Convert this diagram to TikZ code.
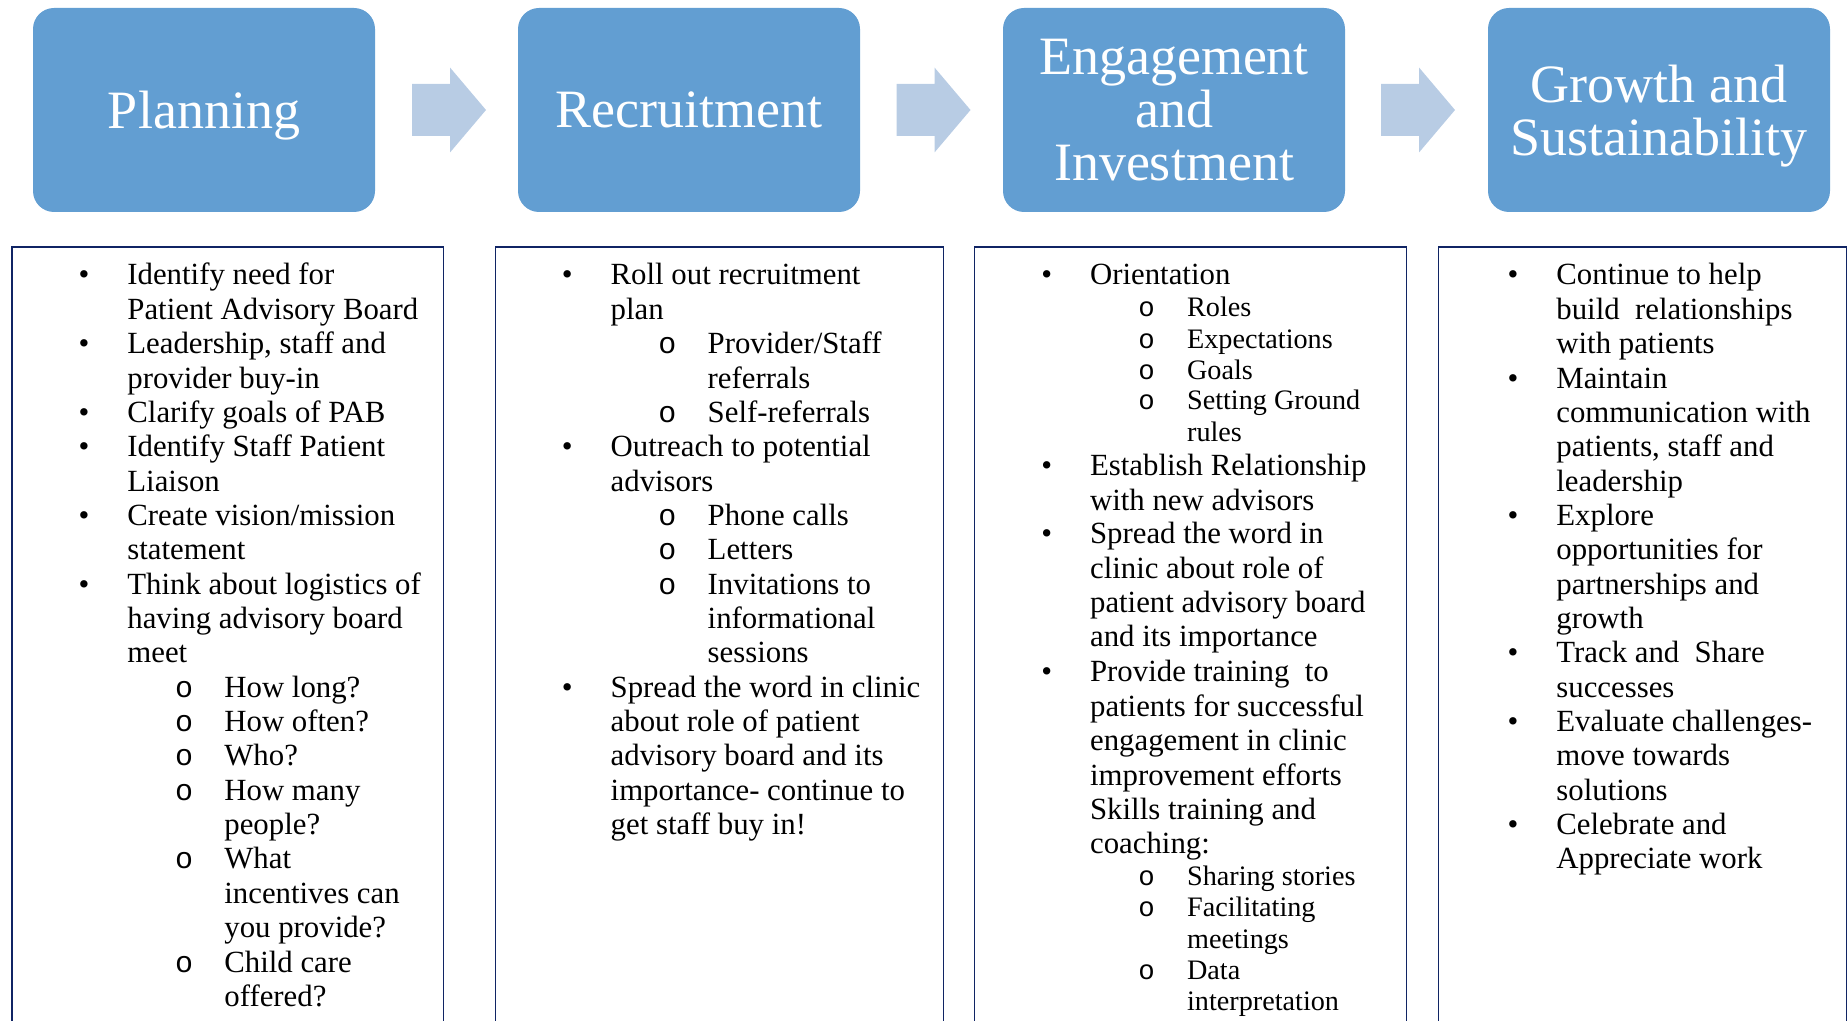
\documentclass[tikz,border=0pt]{standalone}
\usepackage{fontspec}
\setmainfont{Liberation Serif}
\newfontfamily\monof{Liberation Mono}
\usetikzlibrary{calc}
\definecolor{stagefill}{RGB}{98,158,210}
\definecolor{arrowfill}{RGB}{184,204,228}
\definecolor{framec}{RGB}{16,36,100}
\tikzset{
 stagebox/.style={draw=none, fill=stagefill, rounded corners=10.5pt, minimum width=171pt, minimum height=102pt, text=white, align=center, font=\fontsize{27}{26.5}\selectfont, inner sep=0pt},
 flowarrow/.style={fill=arrowfill, draw=none},
 frameline/.style={draw=framec, line width=0.7pt},
 bodyt/.style={inner sep=0pt, font=\fontsize{15.4}{17.15}\selectfont},
 smallt/.style={inner sep=0pt, font=\fontsize{14.1}{15.6}\selectfont},
 bult/.style={inner sep=0pt, font=\fontsize{15.4}{17.15}\selectfont},
 subbul/.style={inner sep=0pt, font=\monof\fontsize{15}{17.15}\selectfont},
 subbuls/.style={inner sep=0pt, font=\monof\fontsize{13.7}{15.6}\selectfont},
}
\newcounter{lnc}
\newcommand{\tline}[4]{\stepcounter{lnc}\node[#1,anchor=base west] (ln\arabic{lnc}) at ({#2},{#3}) {#4};}
\newcommand{\tbul}[2]{\stepcounter{lnc}\node[bult,anchor=base] (ln\arabic{lnc}) at ({#1},{#2}) {\textbullet};}
\newcommand{\tsub}[3]{\stepcounter{lnc}\node[#1,anchor=base] (ln\arabic{lnc}) at ({#2},{#3}) {o};}
\newcommand{\itB}[3]{\tbul{#1+72}{#2}\tline{bodyt}{#1+115}{#2}{#3}}
\newcommand{\itC}[3]{\tline{bodyt}{#1+115}{#2}{#3}}
\newcommand{\itS}[3]{\tsub{subbul}{#1+172}{#2}\tline{bodyt}{#1+212}{#2}{#3}}
\newcommand{\itT}[3]{\tline{bodyt}{#1+212}{#2}{#3}}
\newcommand{\smS}[3]{\tsub{subbuls}{#1+172}{#2}\tline{smallt}{#1+212}{#2}{#3}}
\newcommand{\smT}[3]{\tline{smallt}{#1+212}{#2}{#3}}
\newcommand{\kk}[1]{285+#1*34.35}
\newcommand{\nodp}[1]{\raisebox{0pt}[\height][0pt]{#1}}
\newcommand{\blockarrow}[1]{%
 \fill[flowarrow] ($(#1)+(-37,-26)$) -- ($(#1)+(1,-26)$) -- ($(#1)+(1,-42.5)$) -- ($(#1)+(37,0)$)
   -- ($(#1)+(1,42.5)$) -- ($(#1)+(1,26)$) -- ($(#1)+(-37,26)$) -- cycle;}
\begin{document}
\begin{tikzpicture}[x=0.5pt,y=-0.5pt]
\useasboundingbox (0,0) rectangle (1848,1021);
% stage boxes
\node[stagebox] (p1) at (204,110) {\nodp{Planning}};
\node[stagebox] (p2) at (689,110) {Recruitment};
\node[stagebox] (p3) at (1174,110) {Engagement\\and\\Investment};
\node[stagebox] (p4) at (1659,110) {Growth and\\\nodp{Sustainability}};
% block arrows
\coordinate (a1) at ($(p1.east)!0.5!(p2.west)+(2.5,0)$);
\coordinate (a2) at ($(p2.east)!0.5!(p3.west)+(2,0)$);
\coordinate (a3) at ($(p3.east)!0.5!(p4.west)+(1.5,0)$);
\blockarrow{a1}
\blockarrow{a2}
\blockarrow{a3}
% frames
\draw[frameline] (12,1023) -- (12,247) -- (443.5,247) -- (443.5,1023);
\draw[frameline] (495.3,1023) -- (495.3,247) -- (943.7,247) -- (943.7,1023);
\draw[frameline] (974.7,1023) -- (974.7,247) -- (1406.7,247) -- (1406.7,1023);
\draw[frameline] (1438.7,1023) -- (1438.7,247) -- (1846.3,247) -- (1846.3,1023);
% column 1
\itB{12}{\kk{0}}{Identify need for}
\itC{12}{\kk{1}}{Patient Advisory Board}
\itB{12}{\kk{2}}{Leadership, staff and}
\itC{12}{\kk{3}}{provider buy-in}
\itB{12}{\kk{4}}{Clarify goals of PAB}
\itB{12}{\kk{5}}{Identify Staff Patient}
\itC{12}{\kk{6}}{Liaison}
\itB{12}{\kk{7}}{Create vision/mission}
\itC{12}{\kk{8}}{statement}
\itB{12}{\kk{9}}{Think about logistics of}
\itC{12}{\kk{10}}{having advisory board}
\itC{12}{\kk{11}}{meet}
\itS{12}{\kk{12}}{How long?}
\itS{12}{\kk{13}}{How often?}
\itS{12}{\kk{14}}{Who?}
\itS{12}{\kk{15}}{How many}
\itT{12}{\kk{16}}{people?}
\itS{12}{\kk{17}}{What}
\itT{12}{\kk{18}}{incentives can}
\itT{12}{\kk{19}}{you provide?}
\itS{12}{\kk{20}}{Child care}
\itT{12}{\kk{21}}{offered?}
% column 2
\itB{495.3}{\kk{0}}{Roll out recruitment}
\itC{495.3}{\kk{1}}{plan}
\itS{495.3}{\kk{2}}{Provider/Staff}
\itT{495.3}{\kk{3}}{referrals}
\itS{495.3}{\kk{4}}{Self-referrals}
\itB{495.3}{\kk{5}}{Outreach to potential}
\itC{495.3}{\kk{6}}{advisors}
\itS{495.3}{\kk{7}}{Phone calls}
\itS{495.3}{\kk{8}}{Letters}
\itS{495.3}{\kk{9}}{Invitations to}
\itT{495.3}{\kk{10}}{informational}
\itT{495.3}{\kk{11}}{sessions}
\itB{495.3}{\kk{12}}{Spread the word in clinic}
\itC{495.3}{\kk{13}}{about role of patient}
\itC{495.3}{\kk{14}}{advisory board and its}
\itC{495.3}{\kk{15}}{importance- continue to}
\itC{495.3}{\kk{16}}{get staff buy in!}
% column 3
\itB{974.7}{285}{Orientation}
\smS{974.7}{317}{Roles}
\smS{974.7}{348.3}{Expectations}
\smS{974.7}{379.3}{Goals}
\smS{974.7}{410}{Setting Ground}
\smT{974.7}{441.5}{rules}
\itB{974.7}{476}{Establish Relationship}
\itC{974.7}{510}{with new advisors}
\itB{974.7}{544}{Spread the word in}
\itC{974.7}{578.5}{clinic about role of}
\itC{974.7}{612.7}{patient advisory board}
\itC{974.7}{646.7}{and its importance}
\itB{974.7}{681.5}{Provide training\ \ to}
\itC{974.7}{716}{patients for successful}
\itC{974.7}{750}{engagement in clinic}
\itC{974.7}{785}{improvement efforts}
\itC{974.7}{819}{Skills training and}
\itC{974.7}{853}{coaching:}
\smS{974.7}{885}{Sharing stories}
\smS{974.7}{916.5}{Facilitating}
\smT{974.7}{948}{meetings}
\smS{974.7}{979}{Data}
\smT{974.7}{1010}{interpretation}
% column 4
\itB{1441}{\kk{0}}{Continue to help}
\itC{1441}{\kk{1}}{build\ \ relationships}
\itC{1441}{\kk{2}}{with patients}
\itB{1441}{\kk{3}}{Maintain}
\itC{1441}{\kk{4}}{communication with}
\itC{1441}{\kk{5}}{patients, staff and}
\itC{1441}{\kk{6}}{leadership}
\itB{1441}{\kk{7}}{Explore}
\itC{1441}{\kk{8}}{opportunities for}
\itC{1441}{\kk{9}}{partnerships and}
\itC{1441}{\kk{10}}{growth}
\itB{1441}{\kk{11}}{Track and\ \ Share}
\itC{1441}{\kk{12}}{successes}
\itB{1441}{\kk{13}}{Evaluate challenges-}
\itC{1441}{\kk{14}}{move towards}
\itC{1441}{\kk{15}}{solutions}
\itB{1441}{\kk{16}}{Celebrate and}
\itC{1441}{\kk{17}}{Appreciate work}
\end{tikzpicture}
\end{document}
